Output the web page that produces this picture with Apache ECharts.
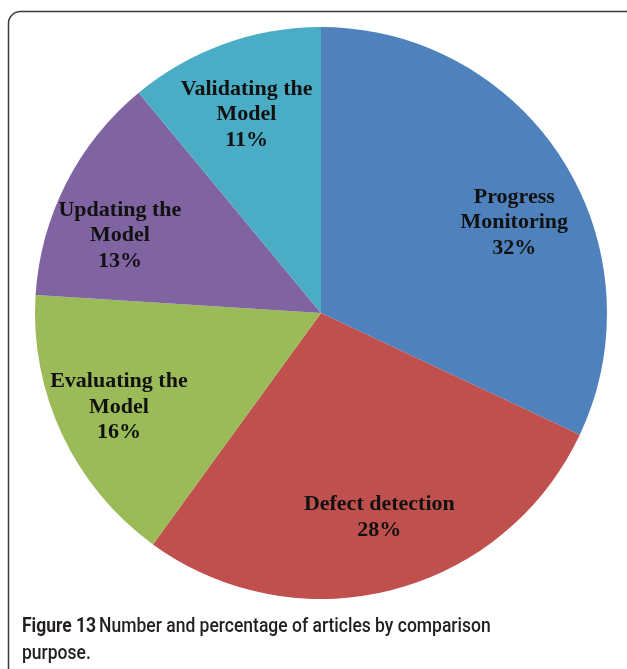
<!DOCTYPE html>
<html>
<head>
<meta charset="utf-8">
<script src="https://cdn.jsdelivr.net/npm/echarts@6/dist/echarts.min.js"></script>
<style>
html,body{margin:0;padding:0;background:#fff;}
#chart{width:627px;height:669px;}
</style>
</head>
<body>
<div id="chart"></div>
<script>
const categories = ['Progress\nMonitoring', 'Defect detection', 'Evaluating the\nModel', 'Updating the\nModel', 'Validating the\nModel'];
const values = [32, 28, 16, 13, 11];
const colors = ['#4F81BD', '#C0504D', '#9BBB59', '#8064A2', '#4BACC6'];
const labelOffsets = [[70, -12], [22, 63], [-70, 32], [-71, -11], [-25, -61]];

const chart = echarts.init(document.getElementById('chart'), null, {renderer: 'canvas'});
chart.setOption({
  animation: false,
  backgroundColor: '#fff',
  graphic: [
    {
      type: 'rect',
      shape: {x: 8.5, y: 11.5, width: 660, height: 700, r: 12},
      style: {fill: 'none', stroke: '#3a3a3a', lineWidth: 1.5},
      z: 0
    },
    {
      type: 'text',
      x: 22,
      y: 613,
      scaleX: 0.875,
      style: {
        rich: {
          b: {fontFamily: 'Roboto', fontWeight: 'bold', fontSize: 20, fill: '#231f20'},
          n: {fontFamily: 'Roboto', fontWeight: 500, fontSize: 20, fill: '#231f20'}
        },
        text: '{b|Figure 13} {n|Number and percentage of articles by comparison}\n{n|purpose.}',
        lineHeight: 27,
        fill: '#231f20'
      },
      z: 10
    }
  ],
  series: [{
    type: 'pie',
    center: [321, 313],
    radius: [0, 286],
    startAngle: 90,
    clockwise: true,
    avoidLabelOverlap: false,
    itemStyle: {borderWidth: 0},
    label: {
      show: true,
      position: 'inside',
      fontFamily: 'Liberation Serif',
      fontWeight: 'bold',
      fontSize: 22,
      lineHeight: 25.5,
      color: '#111',
      align: 'center',
      formatter: p => p.name + '\n' + p.value + '%'
    },
    labelLine: {show: false},
    emphasis: {disabled: true},
    data: categories.map((c, i) => ({
      name: c,
      value: values[i],
      itemStyle: {color: colors[i]},
      label: {offset: labelOffsets[i]}
    }))
  }]
});
</script>
</body>
</html>
